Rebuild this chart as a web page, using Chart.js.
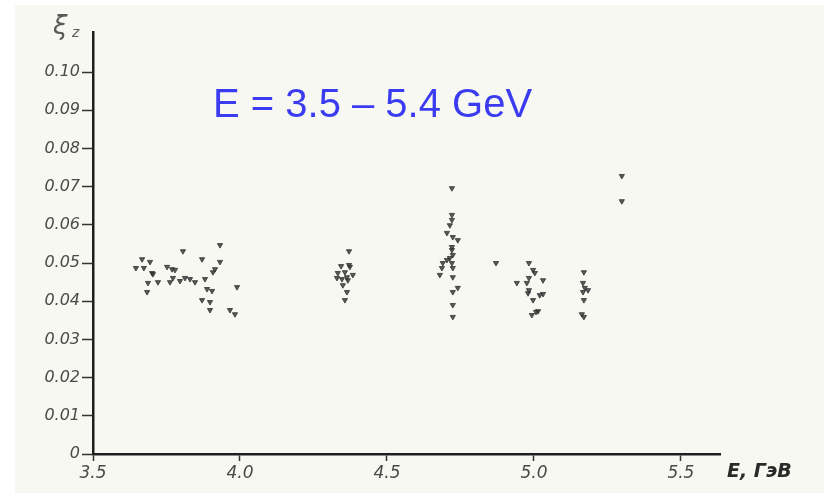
<!DOCTYPE html>
<html>
<head>
<meta charset="utf-8">
<script src="https://cdn.jsdelivr.net/npm/chart.js@4.4.0/dist/chart.umd.min.js"></script>
<style>
  html, body { margin: 0; padding: 0; background: #ffffff; overflow: hidden; }
  #wrap { width: 824px; height: 493px; }
</style>
</head>
<body>
<div id="wrap"><canvas id="graphCanvas" width="824" height="493"></canvas></div>
<script>
// Tick labels of the two axes
var xTicks = [3.5, 4.0, 4.5, 5.0, 5.5];
var yTicks = [0, 0.01, 0.02, 0.03, 0.04, 0.05, 0.06, 0.07, 0.08, 0.09, 0.10];

var energy = [
  // E ~ 3.65 - 4.0
  3.932, 3.806, 3.667, 3.694, 3.871, 3.932, 3.646, 3.673, 3.701, 3.704, 3.752,
  3.769, 3.779, 3.915, 3.908, 3.721, 3.687, 3.762, 3.772, 3.796, 3.813, 3.830,
  3.847, 3.881, 3.684, 3.888, 3.905, 3.990, 3.871, 3.898, 3.898, 3.966, 3.983,
  // E ~ 4.35
  4.371, 4.344, 4.371, 4.374, 4.333, 4.357, 4.384, 4.364, 4.330, 4.347, 4.367,
  4.350, 4.364, 4.357,
  // E ~ 4.72
  4.721, 4.721, 4.721, 4.714, 4.704, 4.724, 4.741, 4.721, 4.721, 4.724, 4.704,
  4.714, 4.690, 4.721, 4.687, 4.724, 4.680, 4.724, 4.741, 4.724, 4.724, 4.724,
  // E ~ 4.87
  4.871,
  // E ~ 5.0
  4.983, 4.997, 5.003, 4.942, 4.976, 4.983, 5.031, 4.983, 4.980, 5.020, 5.031,
  4.997, 5.014, 4.993, 5.007,
  // E ~ 5.17
  5.170, 5.167, 5.173, 5.184, 5.167, 5.170, 5.163, 5.170,
  // E ~ 5.3
  5.299, 5.299
];
var xi = [
  0.0547, 0.0531, 0.0510, 0.0503, 0.0510, 0.0503, 0.0487, 0.0487, 0.0474, 0.0471, 0.0490,
  0.0484, 0.0482, 0.0484, 0.0476, 0.0450, 0.0448, 0.0450, 0.0461, 0.0453, 0.0461, 0.0458,
  0.0450, 0.0458, 0.0424, 0.0432, 0.0427, 0.0437, 0.0403, 0.0398, 0.0377, 0.0377, 0.0366,
  0.0531, 0.0492, 0.0495, 0.0490, 0.0474, 0.0476, 0.0469, 0.0463, 0.0461, 0.0458, 0.0455,
  0.0442, 0.0424, 0.0403,
  0.0696, 0.0626, 0.0613, 0.0599, 0.0579, 0.0568, 0.0560, 0.0542, 0.0534, 0.0521, 0.0508,
  0.0513, 0.0500, 0.0500, 0.0487, 0.0487, 0.0469, 0.0463, 0.0435, 0.0424, 0.0390, 0.0359,
  0.0500,
  0.0500, 0.0482, 0.0474, 0.0448, 0.0448, 0.0461, 0.0455, 0.0429, 0.0421, 0.0416, 0.0419,
  0.0403, 0.0374, 0.0364, 0.0372,
  0.0476, 0.0448, 0.0435, 0.0429, 0.0424, 0.0403, 0.0366, 0.0359,
  0.0728, 0.0662
];

var points = [];
for (var i = 0; i < energy.length; i++) {
  points.push({ x: energy[i], y: xi[i] });
}

// paper background, axis names and the blue note
var decorations = {
  id: 'decorations',
  beforeDraw: function(chart) {
    var c = chart.ctx;
    c.save();
    c.fillStyle = '#ffffff';
    c.fillRect(0, 0, chart.width, chart.height);
    c.fillStyle = '#f6f8f1';
    c.fillRect(15, 5, chart.width - 15, chart.height - 5);
    c.restore();
  },
  afterDraw: function(chart) {
    var c = chart.ctx;
    var area = chart.chartArea;
    c.save();
    // y axis name
    c.fillStyle = '#5a5a5a';
    c.textBaseline = 'alphabetic';
    c.font = 'italic 26px "DejaVu Sans"';
    c.fillText('ξ', area.left - 40, area.top + 2);
    c.font = 'italic 14px "DejaVu Sans"';
    c.fillText('z', area.left - 21, area.top + 5);
    // x axis name
    c.fillStyle = '#2a2a2a';
    c.font = 'italic bold 19px "DejaVu Sans"';
    c.fillText('E, ГэВ', area.right + 7, area.bottom + 23);
    // note
    c.fillStyle = '#3b3bf2';
    c.font = '40px "Liberation Sans"';
    c.fillText('E = 3.5 – 5.4 GeV', area.left + 120, area.top + 85);
    c.restore();
  }
};

var config = {
  type: 'scatter',
  data: {
    datasets: [{
      label: 'xi_z',
      data: points,
      pointStyle: 'triangle',
      rotation: 180,
      radius: 3,
      backgroundColor: 'rgba(50,50,50,0.8)',
      borderColor: 'rgba(50,50,50,0.8)',
      borderWidth: 1
    }]
  },
  options: {
    responsive: false,
    animation: false,
    layout: { padding: { left: 0, top: 32, right: 104, bottom: 0 } },
    plugins: {
      legend: { display: false },
      tooltip: { enabled: false }
    },
    scales: {
      x: {
        type: 'linear',
        min: 3.5,
        max: 5.633,
        afterBuildTicks: function(scale) {
          scale.ticks = xTicks.map(function(v) { return { value: v }; });
        },
        afterFit: function(scale) { scale.height = 39; },
        grid: { drawOnChartArea: false, tickLength: 7, tickColor: '#333', tickWidth: 1.5 },
        border: { color: '#1e1e1e', width: 2.5 },
        ticks: {
          padding: 2,
          color: '#4a4a4a',
          font: { family: 'DejaVu Sans', size: 17, style: 'italic' },
          callback: function(v) { return v.toFixed(1); }
        }
      },
      y: {
        type: 'linear',
        min: 0,
        max: 0.1105,
        afterBuildTicks: function(scale) {
          scale.ticks = yTicks.map(function(v) { return { value: v }; });
        },
        afterFit: function(scale) { scale.width = 93; },
        grid: { drawOnChartArea: false, tickLength: 11, tickColor: '#333', tickWidth: 1.5 },
        border: { color: '#1e1e1e', width: 2.5 },
        ticks: {
          padding: 2,
          color: '#4a4a4a',
          font: { family: 'DejaVu Sans', size: 16, style: 'italic' },
          callback: function(v) { return v === 0 ? '0' : v.toFixed(2); }
        }
      }
    }
  },
  plugins: [decorations]
};

var graph = new Chart(document.getElementById('graphCanvas').getContext('2d'), config);
</script>
</body>
</html>
